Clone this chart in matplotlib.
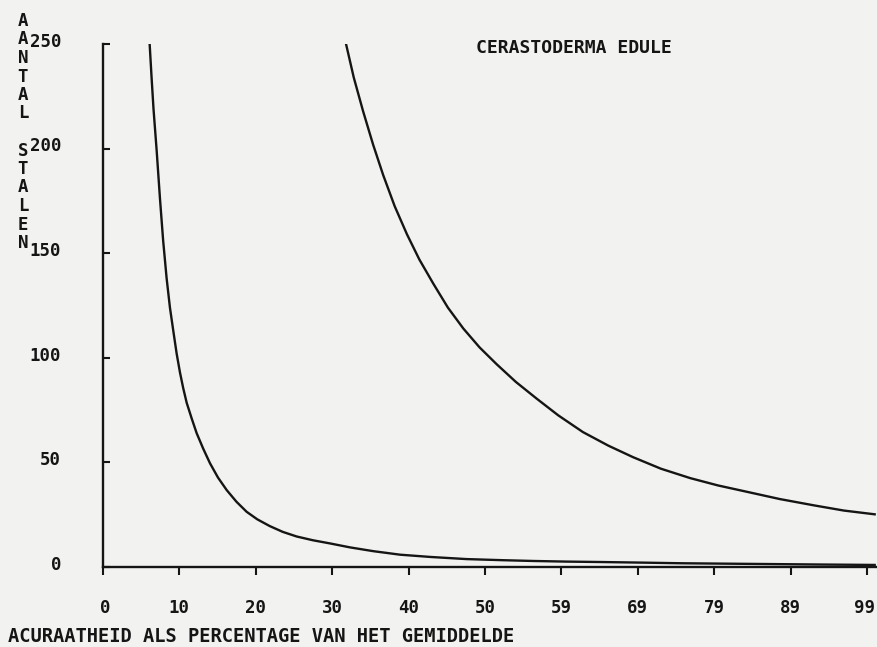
import numpy as np
import matplotlib
matplotlib.use('Agg')
import matplotlib.pyplot as plt
from matplotlib.transforms import offset_copy

# values
x_left = [6.05, 6.3, 6.55, 6.96, 7.39, 7.8, 8.25, 8.68, 9.11, 9.55, 9.98, 10.4,
          10.85, 11.5, 12.14, 13.0, 13.87, 14.9, 16.03, 17.3, 18.62, 20.0, 21.6,
          23.3, 25.1, 27.2, 29.4, 32.0, 35.0, 38.5, 42.5, 47.1, 51.5, 55.7,
          60.0, 64.4, 70.0, 75.0, 81.0, 87.0, 93.0, 100.0]
n_left = [250, 234, 219, 199, 176, 156, 138, 124, 113, 102, 93, 85.5,
          78.5, 71, 64, 56.5, 49.6, 42.8, 36.8, 31.2, 26.4, 22.8, 19.6,
          16.8, 14.6, 12.8, 11.3, 9.4, 7.6, 5.9, 4.8, 3.8, 3.3, 2.9,
          2.6, 2.4, 2.1, 1.8, 1.6, 1.4, 1.2, 1.0]

x_right = [31.5, 32.5, 33.7, 35.0, 36.3, 37.8, 39.4, 41.0, 42.8, 44.7, 46.7,
           48.8, 51.0, 53.5, 56.2, 59.0, 62.2, 65.5, 68.7, 72.3, 76.1, 79.7,
           83.4, 87.7, 92.1, 96.0, 100.0]
n_right = [250, 234, 218, 202, 187.5, 172.5, 159, 147, 135.5, 124, 114,
           105, 97, 88.5, 80.5, 72.5, 64.5, 58, 52.5, 47, 42.5, 39,
           36, 32.5, 29.5, 27, 25.2]

xtick_pos = np.linspace(0, 99, 11)
xtick_lab = ['0', '10', '20', '30', '40', '50', '59', '69', '79', '89', '99']
ytick_pos = [0, 50, 100, 150, 200, 250]
ytick_lab = ['0', '50', '100', '150', '200', '250']

ylabel_letters = list('AANTAL') + [' '] + list('STALEN')

ink = '#151515'
paper = '#f2f2f0'
font = dict(family='DejaVu Sans Mono', weight='bold', color=ink)

fig = plt.figure(figsize=(8.77, 6.47), dpi=100, facecolor=paper)
ax = fig.add_axes([0.1174, 0.1236, 0.8826, 0.8083], facecolor=paper)

ax.plot(x_left, n_left, color=ink, linewidth=1.7)
ax.plot(x_right, n_right, color=ink, linewidth=1.7)

ax.set_xlim(0, 100.3)
ax.set_ylim(0, 250)

for side in ['top', 'right']:
    ax.spines[side].set_visible(False)
for side in ['left', 'bottom']:
    ax.spines[side].set_linewidth(1.7)
    ax.spines[side].set_color(ink)

ax.set_xticks(xtick_pos)
ax.set_xticklabels(xtick_lab, fontsize=12.5, **font)
ax.set_yticks(ytick_pos)
ax.set_yticklabels(ytick_lab, fontsize=12.5, **font)
ax.tick_params(axis='x', direction='out', length=6, width=1.5, color=ink, pad=17)
ax.tick_params(axis='y', direction='in', length=5, width=1.5, color=ink, pad=30)
for lab in ax.get_yticklabels():
    lab.set_transform(offset_copy(lab.get_transform(), fig=fig, x=0, y=3, units='points'))
xl = ax.get_xticklabels()
xl[0].set_transform(offset_copy(xl[0].get_transform(), fig=fig, x=2, y=0, units='points'))
xl[-1].set_transform(offset_copy(xl[-1].get_transform(), fig=fig, x=-2, y=0, units='points'))

ax.text(476 / 877, 1 - 48 / 647, 'CERASTODERMA EDULE', transform=fig.transFigure,
        fontsize=13, ha='left', va='center', **font)

fig.text(8 / 877, 1 - 636 / 647, 'ACURAATHEID ALS PERCENTAGE VAN HET GEMIDDELDE',
         fontsize=13.5, ha='left', va='center', **font)

for i, ch in enumerate(ylabel_letters):
    fig.text(23 / 877, 1 - (21 + 18.5 * i) / 647, ch, fontsize=12.5,
             ha='center', va='center', **font)

fig.savefig('out.png', dpi=100, facecolor=paper)
